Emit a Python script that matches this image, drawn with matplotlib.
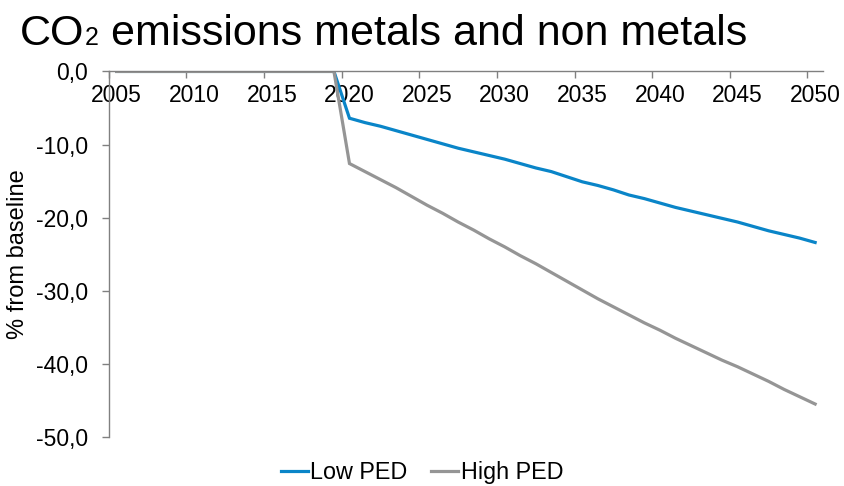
import numpy as np
import matplotlib
matplotlib.use('Agg')
import matplotlib.pyplot as plt
from matplotlib.ticker import FixedLocator, FuncFormatter, NullFormatter

plt.rcParams['font.family'] = ['Liberation Sans', 'DejaVu Sans']

years = list(range(2005, 2051))
low_ped = [0.0] * 15 + [
    -6.4, -7.0, -7.5, -8.1, -8.7, -9.3, -9.9, -10.5, -11.0, -11.5,
    -12.0, -12.6, -13.2, -13.7, -14.4, -15.1, -15.6, -16.2, -16.9, -17.4,
    -18.0, -18.6, -19.1, -19.6, -20.1, -20.6, -21.2, -21.8, -22.3, -22.8,
    -23.4]
high_ped = [0.0] * 15 + [
    -12.6, -13.7, -14.8, -15.9, -17.1, -18.3, -19.4, -20.6, -21.7, -22.9,
    -24.0, -25.2, -26.3, -27.5, -28.7, -29.9, -31.1, -32.2, -33.3, -34.4,
    -35.4, -36.5, -37.5, -38.5, -39.5, -40.4, -41.4, -42.4, -43.5, -44.5,
    -45.5]
label_years = [2005, 2010, 2015, 2020, 2025, 2030, 2035, 2040, 2045, 2050]
y_ticks = [0, -10, -20, -30, -40, -50]

fig = plt.figure(figsize=(8.44, 4.86), dpi=100)
ax = fig.add_axes([0.129, 0.101, 0.846, 0.752])

ax.plot(years, low_ped, color='#0a85c8', lw=2.3, label='Low PED', solid_joinstyle='miter')
ax.plot(years, high_ped, color='#959595', lw=2.3, label='High PED', solid_joinstyle='miter')

ax.set_xlim(2004.5, 2050.5)
ax.set_ylim(-50, 0)

# axis line sits at y = 0 (top of the plot)
for s in ['top', 'right']:
    ax.spines[s].set_visible(False)
ax.spines['bottom'].set_position(('data', 0))
ax.spines['bottom'].set_color('#808080')
ax.spines['left'].set_color('#808080')
ax.spines['bottom'].set_linewidth(1.0)
ax.spines['left'].set_linewidth(1.0)

# ticks between categories, labels at category centres
ax.xaxis.set_major_locator(FixedLocator([y - 0.5 for y in label_years]))
ax.xaxis.set_major_formatter(NullFormatter())
ax.xaxis.set_minor_locator(FixedLocator(label_years))
ax.xaxis.set_minor_formatter(FuncFormatter(lambda v, p: str(int(round(v)))))
ax.tick_params(axis='x', which='major', direction='out', length=5, width=1, color='#808080')
ax.tick_params(axis='x', which='minor', length=0, pad=9, labelsize=16.5)

ax.set_yticks(y_ticks)
ax.yaxis.set_major_formatter(FuncFormatter(lambda v, p: f'{v:.1f}'.replace('.', ',')))
ax.tick_params(axis='y', direction='out', length=5, width=1, color='#808080', pad=10, labelsize=16.5)

ax.set_ylabel('% from baseline', fontsize=17, labelpad=5)

leg = fig.legend(loc='center', bbox_to_anchor=(0.5, 0.028), ncol=2, frameon=False,
                 fontsize=16.8, handlelength=1.15, handletextpad=0.12, columnspacing=1.0)

# title with a subscript 2 that sits on the baseline
fig.canvas.draw()
r = fig.canvas.get_renderer()
ty = 1 - 45 / 486
t1 = fig.text(20 / 844, ty, 'CO', fontsize=31, va='baseline', ha='left')
bb = t1.get_window_extent(r)
t2 = fig.text(bb.x1 / 844 + 0.001, ty, '2', fontsize=18, va='baseline', ha='left')
bb2 = t2.get_window_extent(r)
fig.text(bb2.x1 / 844, ty, ' emissions metals and non metals', fontsize=31, va='baseline', ha='left')

fig.savefig('out.png', dpi=100)
